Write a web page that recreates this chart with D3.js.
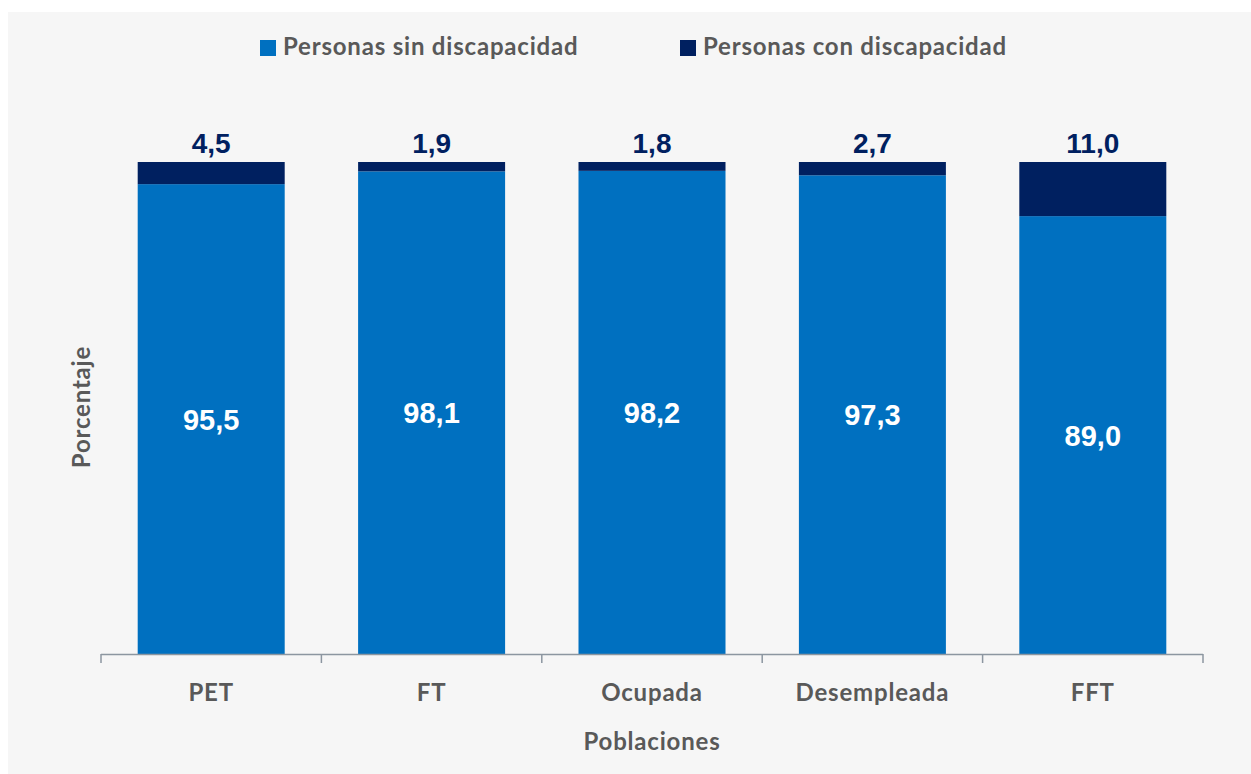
<!DOCTYPE html>
<html><head><meta charset="utf-8">
<script src="https://cdn.jsdelivr.net/npm/d3@7"></script>
<style>body{margin:0;background:#fff;}svg{display:block;}</style>
</head><body>
<script>
const categories = ["PET", "FT", "Ocupada", "Desempleada", "FFT"];
const sinDiscapacidad = [95.5, 98.1, 98.2, 97.3, 89.0];
const conDiscapacidad = [4.5, 1.9, 1.8, 2.7, 11.0];
const seriesNames = ["Personas sin discapacidad", "Personas con discapacidad"];
const seriesColors = ["#0070C0", "#002060"];

const W = 1251, H = 774;
const svg = d3.select("body").append("svg").attr("width", W).attr("height", H);
svg.append("rect").attr("x", 8).attr("y", 12).attr("width", W - 8).attr("height", H - 12).attr("fill", "#f6f6f6");

const x0 = 101, x1 = 1203, yTop = 162, yBot = 654;
const x = d3.scaleBand().domain(categories).range([x0, x1]).paddingInner(0.333).paddingOuter(0.1665);
const y = d3.scaleLinear().domain([0, 100]).range([yBot, yTop]);

const data = categories.map((c, i) => ({cat: c, a: sinDiscapacidad[i], b: conDiscapacidad[i]}));
const stack = d3.stack().keys(["a", "b"])(data);

const labelFont = "Lato, 'Open Sans', sans-serif";
const numFont = "'Liberation Sans', Arial, sans-serif";
const fmt = v => d3.format(".1f")(v).replace(".", ",");

stack.forEach((layer, li) => {
  svg.append("g").selectAll("rect").data(layer).join("rect")
    .attr("x", d => x(d.data.cat))
    .attr("width", x.bandwidth())
    .attr("y", d => y(d[1]))
    .attr("height", d => y(d[0]) - y(d[1]))
    .attr("fill", seriesColors[li]);
});

// value labels inside blue
svg.append("g").selectAll("text").data(stack[0]).join("text")
  .attr("x", d => x(d.data.cat) + x.bandwidth() / 2)
  .attr("y", d => (y(d[0]) + y(d[1])) / 2)
  .attr("dy", "0.36em")
  .attr("text-anchor", "middle")
  .attr("fill", "#ffffff")
  .attr("font-family", numFont).attr("font-weight", "bold").attr("font-size", 29)
  .text(d => fmt(d.data.a));

// value labels above
svg.append("g").selectAll("text").data(stack[1]).join("text")
  .attr("x", d => x(d.data.cat) + x.bandwidth() / 2)
  .attr("y", d => y(d[1]) - 9)
  .attr("text-anchor", "middle")
  .attr("fill", "#002060")
  .attr("font-family", numFont).attr("font-weight", "bold").attr("font-size", 28)
  .text(d => fmt(d.data.b));

// axis
const axisG = svg.append("g").attr("transform", `translate(0,${yBot})`);
axisG.append("line").attr("x1", x0).attr("x2", x1).attr("y1", 0.5).attr("y2", 0.5)
  .attr("stroke", "#8c96a0").attr("stroke-width", 1.5);
const tickXs = d3.range(categories.length + 1).map(i => x0 + i * (x1 - x0) / categories.length);
axisG.selectAll("line.tick").data(tickXs).join("line").attr("class", "tick")
  .attr("x1", d => d).attr("x2", d => d).attr("y1", 0).attr("y2", 9)
  .attr("stroke", "#8c96a0").attr("stroke-width", 1.5);

const textStyle = sel => sel.attr("fill", "#595959").attr("font-family", labelFont)
  .attr("font-weight", "bold").attr("font-size", 24).attr("letter-spacing", "0.8px");

axisG.selectAll("text").data(categories).join("text")
  .attr("x", d => x(d) + x.bandwidth() / 2)
  .attr("y", 47)
  .attr("text-anchor", "middle")
  .call(textStyle)
  .text(d => d);

svg.append("text").attr("x", (x0 + x1) / 2).attr("y", 750).attr("text-anchor", "middle")
  .call(textStyle).text("Poblaciones");

svg.append("text").attr("transform", "translate(90,407) rotate(-90)").attr("text-anchor", "middle")
  .call(textStyle).text("Porcentaje");

// legend
const legX = [260, 680];
const leg = svg.append("g").selectAll("g").data(seriesNames).join("g")
  .attr("transform", (d, i) => `translate(${legX[i]},40)`);
leg.append("rect").attr("width", 16).attr("height", 16).attr("fill", (d, i) => seriesColors[i]);
leg.append("text").attr("x", 23).attr("y", 15).call(textStyle).text(d => d);
</script>
</body></html>
